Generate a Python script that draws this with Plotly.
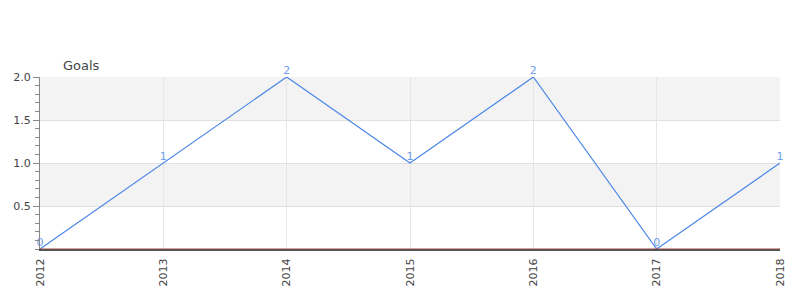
import plotly.graph_objects as go

years = [2012, 2013, 2014, 2015, 2016, 2017, 2018]
goals = [0, 1, 2, 1, 2, 0, 1]
ytick_vals = [0.5, 1.0, 1.5, 2.0]
ytick_text = ["0.5", "1.0", "1.5", "2.0"]
bands = [(0.5, 1.0), (1.5, 2.0)]

fig = go.Figure()
fig.add_trace(go.Scatter(
    x=years, y=goals, mode="lines+text",
    text=[str(g) for g in goals], textposition="top center",
    textfont=dict(family="DejaVu Sans", size=11, color="#6d9eeb"),
    line=dict(color="#4a86e8", width=1.2),
    cliponaxis=False, hoverinfo="skip",
))

shapes = []
for lo, hi in bands:
    shapes.append(dict(type="rect", xref="paper", yref="y", x0=0, x1=1, y0=lo, y1=hi,
                       fillcolor="#f3f3f3", line=dict(width=0), layer="below"))
shapes.append(dict(type="line", xref="paper", yref="y", x0=0, x1=1, y0=0, y1=0,
                   line=dict(color="#c0392b", width=1), layer="above"))

fig.update_layout(
    width=800, height=300,
    margin=dict(l=40, r=20, t=77, b=51),
    paper_bgcolor="white", plot_bgcolor="white",
    showlegend=False,
    shapes=shapes,
    font=dict(family="DejaVu Sans", size=11, color="#444"),
    xaxis=dict(
        range=[2012, 2018], tickmode="array", tickvals=years,
        ticktext=[str(y) for y in years], tickangle=-90,
        showgrid=True, gridcolor="#e6e6e6", gridwidth=1,
        showline=True, linecolor="#555", linewidth=2,
        ticks="", zeroline=False, ticklabelstandoff=3,
        tickfont=dict(size=11, color="#444"),
    ),
    yaxis=dict(
        range=[0, 2], tickmode="array", tickvals=ytick_vals, ticktext=ytick_text,
        showgrid=True, gridcolor="#e0e0e0", gridwidth=1,
        showline=True, linecolor="#888", linewidth=1,
        ticks="outside", ticklen=6, tickcolor="#888",
        minor=dict(dtick=0.1, ticks="outside", ticklen=4, tickcolor="#888", showgrid=False),
        zeroline=False,
        tickfont=dict(size=11, color="#444"),
    ),
    annotations=[dict(text="Goals", xref="paper", yref="paper", x=0.028, y=1.0,
                      xanchor="left", yanchor="bottom", yshift=2, showarrow=False,
                      font=dict(size=13, color="#444"))],
)

fig.write_html("out.html")
